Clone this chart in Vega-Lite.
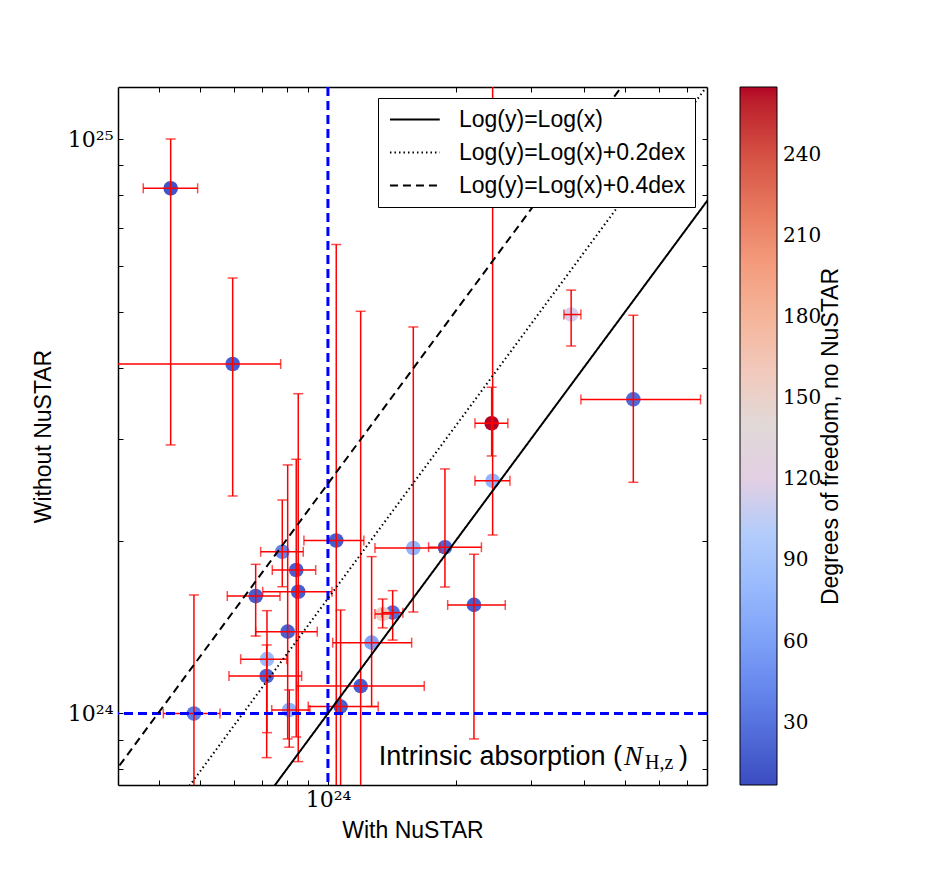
{
  "$schema": "https://vega.github.io/schema/vega-lite/v6.json",
  "width": 589,
  "height": 698,
  "autosize": "none",
  "padding": {"left": 118, "top": 87, "right": 240, "bottom": 88},
  "background": "white",
  "config": {
    "view": {"stroke": null},
    "axis": {"grid": false}
  },
  "datasets": {
    "agn": [
      {"id": 1, "x": 4.265e23, "y": 8.207e24, "xlo": 3.676e23, "xhi": 4.936e23, "ylo": 2.934e24, "yhi": 1.0e25, "dof": 12},
      {"id": 2, "x": 5.968e23, "y": 4.058e24, "xlo": 2.5e23, "xhi": 7.741e23, "ylo": 2.391e24, "yhi": 5.728e24, "dof": 18},
      {"id": 3, "x": 5.231e24, "y": 3.521e24, "xlo": 3.938e24, "xhi": 7.529e24, "ylo": 2.526e24, "yhi": 4.934e24, "dof": 25},
      {"id": 4, "x": 3.735e24, "y": 4.948e24, "xlo": 3.592e24, "xhi": 3.938e24, "ylo": 4.362e24, "yhi": 5.457e24, "dof": 112},
      {"id": 5, "x": 2.428e24, "y": 3.2e24, "xlo": 2.218e24, "xhi": 2.651e24, "ylo": 2.807e24, "yhi": 3.697e24, "dof": 265},
      {"id": 6, "x": 2.441e24, "y": 2.542e24, "xlo": 2.218e24, "xhi": 2.681e24, "ylo": 2.045e24, "yhi": 1.5e25, "dof": 75},
      {"id": 7, "x": 2.206e24, "y": 1.545e24, "xlo": 1.913e24, "xhi": 2.614e24, "ylo": 9.03e23, "yhi": 1.893e24, "dof": 18},
      {"id": 8, "x": 1.885e24, "y": 1.947e24, "xlo": 1.725e24, "xhi": 2.297e24, "ylo": 1.66e24, "yhi": 2.665e24, "dof": 22},
      {"id": 9, "x": 1.588e24, "y": 1.941e24, "xlo": 1.29e24, "xhi": 1.834e24, "ylo": 1.502e24, "yhi": 4.708e24, "dof": 75},
      {"id": 10, "x": 1.42e24, "y": 1.498e24, "xlo": 1.34e24, "xhi": 1.501e24, "ylo": 1.342e24, "yhi": 1.636e24, "dof": 28},
      {"id": 11, "x": 1.345e24, "y": 1.49e24, "xlo": 1.29e24, "xhi": 1.422e24, "ylo": 1.409e24, "yhi": 1.582e24, "dof": 155},
      {"id": 12, "x": 1.267e24, "y": 1.328e24, "xlo": 1.026e24, "xhi": 1.574e24, "ylo": 1.028e24, "yhi": 1.875e24, "dof": 62},
      {"id": 13, "x": 1.194e24, "y": 1.116e24, "xlo": 8.441e23, "xhi": 1.685e24, "ylo": 5e23, "yhi": 5.013e24, "dof": 18},
      {"id": 14, "x": 1.071e24, "y": 1.028e24, "xlo": 8.987e23, "xhi": 1.313e24, "ylo": 5e23, "yhi": 1.514e24, "dof": 18},
      {"id": 15, "x": 1.046e24, "y": 2.0e24, "xlo": 8.779e23, "xhi": 1.215e24, "ylo": 5e23, "yhi": 6.552e24, "dof": 18},
      {"id": 16, "x": 8.421e23, "y": 1.777e24, "xlo": 7.396e23, "xhi": 9.356e23, "ylo": 9.1e23, "yhi": 2.77e24, "dof": 18},
      {"id": 17, "x": 8.513e23, "y": 1.629e24, "xlo": 7.022e23, "xhi": 1.022e24, "ylo": 8.245e23, "yhi": 3.603e24, "dof": 18},
      {"id": 18, "x": 7.808e23, "y": 1.912e24, "xlo": 6.945e23, "xhi": 8.748e23, "ylo": 1.662e24, "yhi": 2.353e24, "dof": 40},
      {"id": 19, "x": 6.76e23, "y": 1.601e24, "xlo": 5.796e23, "xhi": 7.712e23, "ylo": 1.364e24, "yhi": 1.818e24, "dof": 18},
      {"id": 20, "x": 8.04e23, "y": 1.388e24, "xlo": 6.76e23, "xhi": 9.437e23, "ylo": 9.03e23, "yhi": 2.708e24, "dof": 20},
      {"id": 21, "x": 7.187e23, "y": 1.243e24, "xlo": 6.232e23, "xhi": 7.996e23, "ylo": 9.26e23, "yhi": 1.51e24, "dof": 82},
      {"id": 22, "x": 7.175e23, "y": 1.162e24, "xlo": 5.85e23, "xhi": 8.673e23, "ylo": 8.377e23, "yhi": 1.316e24, "dof": 22},
      {"id": 23, "x": 8.109e23, "y": 1.014e24, "xlo": 7.373e23, "xhi": 9.07e23, "ylo": 8.735e23, "yhi": 1.099e24, "dof": 72},
      {"id": 24, "x": 4.838e23, "y": 1.0e24, "xlo": 4.098e23, "xhi": 5.571e23, "ylo": 5e23, "yhi": 1.608e24, "dof": 35}
    ],
    "relations": [
      {"rel": "Log(y)=Log(x)", "x": 1e23, "y": 1e23},
      {"rel": "Log(y)=Log(x)", "x": 1e26, "y": 1e26},
      {"rel": "Log(y)=Log(x)+0.2dex", "x": 1e23, "y": 1.585e23},
      {"rel": "Log(y)=Log(x)+0.2dex", "x": 1e26, "y": 1.585e26},
      {"rel": "Log(y)=Log(x)+0.4dex", "x": 1e23, "y": 2.512e23},
      {"rel": "Log(y)=Log(x)+0.4dex", "x": 1e26, "y": 2.512e26}
    ],
    "limit": [{"v": 1e24}],
    "note": [{"x": 4.919e24, "y": 8.4e23}]
  },
  "layer": [
    {
      "data": {"name": "agn"},
      "mark": {"type": "circle", "size": 215, "opacity": 1, "clip": true},
      "encoding": {
        "x": {
          "field": "x", "type": "quantitative",
          "scale": {"type": "log", "domain": [3.206e23, 7.798e24], "nice": false},
          "title": "With NuSTAR",
          "axis": {
            "orient": "bottom",
            "values": [4e23, 5e23, 6e23, 7e23, 8e23, 9e23, 1e24, 2e24, 3e24, 4e24, 5e24, 6e24, 7e24],
            "labelExpr": "datum.value == 1e24 ? '10²⁴' : ''",
            "tickSize": -5,
            "tickColor": "black", "tickWidth": 1,
            "domainColor": "black", "domainWidth": 1.5,
            "labelFont": "DejaVu Serif", "labelFontSize": 22, "labelColor": "black", "labelPadding": 9,
            "titleFont": "Liberation Sans", "titleFontSize": 23, "titleFontWeight": "normal", "titleColor": "black", "titlePadding": 9
          }
        },
        "y": {
          "field": "y", "type": "quantitative",
          "scale": {"type": "log", "domain": [7.507e23, 1.2318e25], "nice": false},
          "title": "Without NuSTAR",
          "axis": {
            "orient": "left",
            "values": [8e23, 9e23, 1e24, 2e24, 3e24, 4e24, 5e24, 6e24, 7e24, 8e24, 9e24, 1e25],
            "labelExpr": "datum.value == 1e24 ? '10²⁴' : datum.value == 1e25 ? '10²⁵' : ''",
            "tickSize": -5,
            "tickColor": "black", "tickWidth": 1,
            "domainColor": "black", "domainWidth": 1.5,
            "labelFont": "DejaVu Serif", "labelFontSize": 22, "labelColor": "black", "labelPadding": 10,
            "titleFont": "Liberation Sans", "titleFontSize": 23, "titleFontWeight": "normal", "titleColor": "black", "titlePadding": 12
          }
        },
        "color": {
          "field": "dof", "type": "quantitative",
          "scale": {
            "domain": [7, 39.25, 71.5, 103.75, 136, 168.25, 200.5, 232.75, 265],
            "range": ["#3b4cc0", "#6282ea", "#8db0fe", "#b8d0f9", "#dddcdc", "#f5c4ad", "#f49a7b", "#de604d", "#b40426"]
          },
          "legend": {
            "orient": "none", "legendX": 622, "legendY": 0,
            "direction": "vertical",
            "gradientLength": 698, "gradientThickness": 37,
            "gradientStrokeColor": "black", "gradientStrokeWidth": 1,
            "values": [30, 60, 90, 120, 150, 180, 210, 240],
            "labelFont": "DejaVu Serif", "labelFontSize": 20, "labelColor": "black", "labelOffset": 6,
            "title": null
          }
        }
      }
    },
    {
      "data": {"name": "agn"},
      "mark": {"type": "rule", "color": "#ff0000", "strokeWidth": 1.5, "clip": true},
      "encoding": {
        "x": {"field": "x", "type": "quantitative", "axis": null},
        "y": {"field": "ylo", "type": "quantitative", "axis": null},
        "y2": {"field": "yhi"}
      }
    },
    {
      "data": {"name": "agn"},
      "mark": {"type": "rule", "color": "#ff0000", "strokeWidth": 1.5, "clip": true},
      "encoding": {
        "x": {"field": "xlo", "type": "quantitative", "axis": null},
        "x2": {"field": "xhi"},
        "y": {"field": "y", "type": "quantitative", "axis": null}
      }
    },
    {
      "data": {"name": "agn"},
      "mark": {"type": "tick", "orient": "horizontal", "color": "#ff0000", "size": 10, "thickness": 1.5, "clip": true},
      "encoding": {
        "x": {"field": "x", "type": "quantitative", "axis": null},
        "y": {"field": "ylo", "type": "quantitative", "axis": null}
      }
    },
    {
      "data": {"name": "agn"},
      "mark": {"type": "tick", "orient": "horizontal", "color": "#ff0000", "size": 10, "thickness": 1.5, "clip": true},
      "encoding": {
        "x": {"field": "x", "type": "quantitative", "axis": null},
        "y": {"field": "yhi", "type": "quantitative", "axis": null}
      }
    },
    {
      "data": {"name": "agn"},
      "mark": {"type": "tick", "orient": "vertical", "color": "#ff0000", "size": 10, "thickness": 1.5, "clip": true},
      "encoding": {
        "x": {"field": "xlo", "type": "quantitative", "axis": null},
        "y": {"field": "y", "type": "quantitative", "axis": null}
      }
    },
    {
      "data": {"name": "agn"},
      "mark": {"type": "tick", "orient": "vertical", "color": "#ff0000", "size": 10, "thickness": 1.5, "clip": true},
      "encoding": {
        "x": {"field": "xhi", "type": "quantitative", "axis": null},
        "y": {"field": "y", "type": "quantitative", "axis": null}
      }
    },
    {
      "data": {"name": "limit"},
      "mark": {"type": "rule", "color": "#0000ff", "strokeWidth": 3, "strokeDash": [9, 5]},
      "encoding": {
        "x": {"field": "v", "type": "quantitative", "axis": null}
      }
    },
    {
      "data": {"name": "limit"},
      "mark": {"type": "rule", "color": "#0000ff", "strokeWidth": 3, "strokeDash": [9, 5]},
      "encoding": {
        "y": {"field": "v", "type": "quantitative", "axis": null}
      }
    },
    {
      "data": {"name": "relations"},
      "mark": {"type": "line", "color": "black", "strokeWidth": 2, "clip": true},
      "encoding": {
        "x": {
          "field": "x", "type": "quantitative",
          "axis": {
            "orient": "top", "title": null, "labels": false,
            "values": [4e23, 5e23, 6e23, 7e23, 8e23, 9e23, 1e24, 2e24, 3e24, 4e24, 5e24, 6e24, 7e24],
            "tickSize": -5,
            "tickColor": "black", "domainColor": "black", "domainWidth": 1.5
          }
        },
        "y": {
          "field": "y", "type": "quantitative",
          "axis": {
            "orient": "right", "labels": false,
            "title": "Degrees of freedom, no NuSTAR",
            "titleAngle": 270, "titleAnchor": "middle", "titlePadding": 135, "titleLimit": 900,
            "titleFont": "Liberation Sans", "titleFontSize": 23, "titleFontWeight": "normal", "titleColor": "black",
            "values": [8e23, 9e23, 1e24, 2e24, 3e24, 4e24, 5e24, 6e24, 7e24, 8e24, 9e24, 1e25],
            "tickSize": -5,
            "tickColor": "black", "domainColor": "black", "domainWidth": 1.5
          }
        },
        "strokeDash": {
          "field": "rel", "type": "nominal",
          "scale": {
            "domain": ["Log(y)=Log(x)", "Log(y)=Log(x)+0.2dex", "Log(y)=Log(x)+0.4dex"],
            "range": [[1, 0], [1.5, 3], [8, 5]]
          },
          "legend": {
            "title": null, "orient": "none", "legendX": 260, "legendY": 11,
            "symbolType": "M-0.83,0H3.5", "symbolSize": 529, "symbolStrokeWidth": 2, "symbolStrokeColor": "black",
            "labelFont": "Liberation Sans", "labelFontSize": 23, "labelColor": "black", "labelOffset": 47, "labelLimit": 400,
            "rowPadding": 8, "padding": 9,
            "fillColor": "white", "strokeColor": "black"
          }
        }
      }
    },
    {
      "data": {"name": "note"},
      "mark": {"type": "text", "align": "right", "baseline": "middle", "font": "Liberation Sans", "fontSize": 27, "color": "black", "text": "Intrinsic absorption ("},
      "encoding": {
        "x": {"field": "x", "type": "quantitative", "axis": null},
        "y": {"field": "y", "type": "quantitative", "axis": null}
      }
    },
    {
      "data": {"name": "note"},
      "mark": {"type": "text", "align": "left", "baseline": "middle", "font": "Liberation Serif", "fontStyle": "italic", "fontSize": 28, "color": "black", "text": "N", "dx": 2},
      "encoding": {
        "x": {"field": "x", "type": "quantitative", "axis": null},
        "y": {"field": "y", "type": "quantitative", "axis": null}
      }
    },
    {
      "data": {"name": "note"},
      "mark": {"type": "text", "align": "left", "baseline": "middle", "font": "Liberation Serif", "fontSize": 20, "color": "black", "text": "H,z", "dx": 23, "dy": 6},
      "encoding": {
        "x": {"field": "x", "type": "quantitative", "axis": null},
        "y": {"field": "y", "type": "quantitative", "axis": null}
      }
    },
    {
      "data": {"name": "note"},
      "mark": {"type": "text", "align": "left", "baseline": "middle", "font": "Liberation Sans", "fontSize": 27, "color": "black", "text": ")", "dx": 57},
      "encoding": {
        "x": {"field": "x", "type": "quantitative", "axis": null},
        "y": {"field": "y", "type": "quantitative", "axis": null}
      }
    }
  ],
  "resolve": {"axis": {"x": "independent", "y": "independent"}, "legend": {"color": "independent", "strokeDash": "independent"}}
}
